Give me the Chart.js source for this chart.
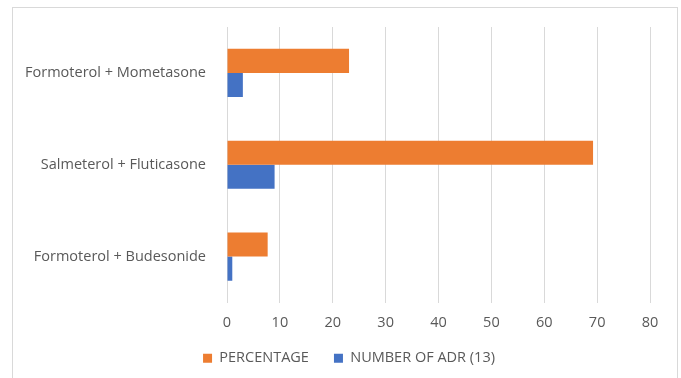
<!DOCTYPE html>
<html>
<head>
<meta charset="utf-8">
<script src="https://cdn.jsdelivr.net/npm/chart.js@4"></script>
<style>
  html, body { margin: 0; padding: 0; background: #fff; }
  #wrap { position: relative; width: 681px; height: 378px; overflow: hidden; }
  #frame { position: absolute; left: 12px; top: 7px; width: 664px; height: 390px; border: 1.5px solid #d9d9d9; }
  canvas { position: absolute; left: 0; top: 0; }
</style>
</head>
<body>
<div id="wrap">
  <div id="frame"></div>
  <canvas id="grafico" width="681" height="378"></canvas>
</div>
<script>
const combinacoes = ['Formoterol + Mometasone', 'Salmeterol + Fluticasone', 'Formoterol + Budesonide'];
const percentual = [23.08, 69.23, 7.69];
const numeroAdr = [3, 9, 1];
const ticksX = [0, 10, 20, 30, 40, 50, 60, 70, 80];

const cinza = '#595959';
const fonte = { family: "'Open Sans', sans-serif", size: 14.5 };

const canvas = document.querySelector('#grafico');

// desloca a legenda para a direita, centrada na área do gráfico
const moveLegenda = {
    id: 'moveLegenda',
    afterLayout: (chart) => {
        chart.legend.left += 24;
        chart.legend.right += 24;
    }
};

const grafico = new Chart(canvas, {
    type: 'bar',
    data: {
        labels: combinacoes,
        datasets: [{
            label: 'PERCENTAGE',
            data: percentual,
            backgroundColor: '#ED7D31',
            categoryPercentage: 0.524,
            barPercentage: 1.0
        }, {
            label: 'NUMBER OF ADR (13)',
            data: numeroAdr,
            backgroundColor: '#4472C4',
            categoryPercentage: 0.524,
            barPercentage: 1.0
        }]
    },
    plugins: [moveLegenda],
    options: {
        indexAxis: 'y',
        responsive: false,
        animation: false,
        layout: { padding: { left: 0, top: 27, right: 31, bottom: 2.5 } },
        plugins: {
            tooltip: { enabled: false },
            legend: {
                position: 'bottom',
                labels: {
                    color: cinza,
                    font: fonte,
                    boxWidth: 9,
                    boxHeight: 9,
                    padding: 10,
                    useBorderRadius: false,
                    // espaço extra entre os itens da legenda
                    generateLabels: (chart) => {
                        const itens = Chart.defaults.plugins.legend.labels.generateLabels(chart);
                        itens.forEach((item, i) => {
                            if (i < itens.length - 1) item.text = item.text + '    ';
                        });
                        return itens;
                    }
                }
            }
        },
        scales: {
            x: {
                min: 0,
                max: 80,
                afterBuildTicks: (escala) => {
                    escala.ticks = ticksX.map(v => ({ value: v }));
                },
                afterFit: (escala) => { escala.height = 38.5; },
                grid: { color: '#d9d9d9', lineWidth: 1, drawTicks: false },
                border: { display: false },
                ticks: { color: cinza, font: fonte, padding: 12 }
            },
            y: {
                afterFit: (escala) => { escala.width = 227; },
                grid: { display: false },
                border: { display: false },
                ticks: { color: cinza, font: fonte, padding: 13 }
            }
        }
    }
});
</script>
</body>
</html>
